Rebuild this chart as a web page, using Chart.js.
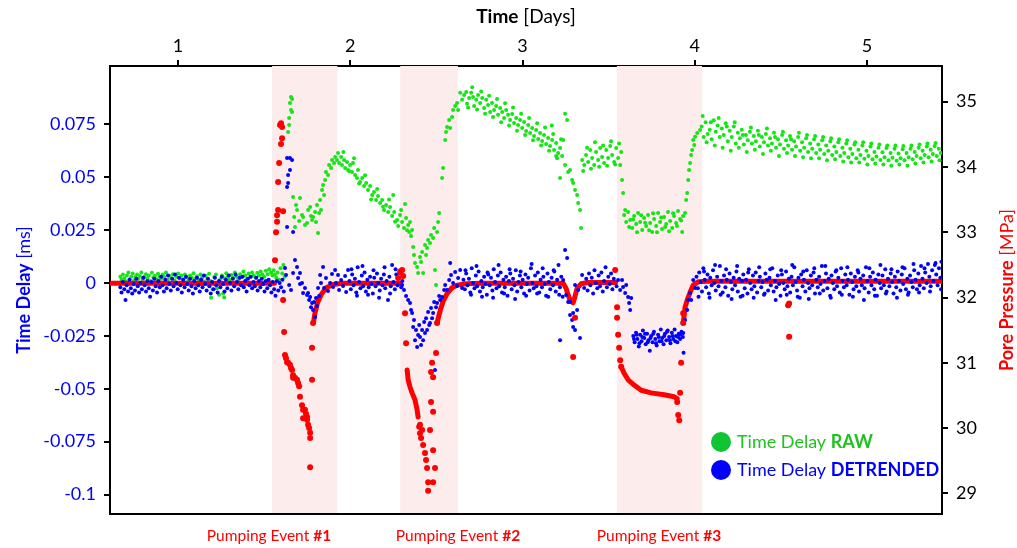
<!DOCTYPE html>
<html>
<head>
<meta charset="utf-8">
<script src="https://cdn.jsdelivr.net/npm/chart.js@4.4.0/dist/chart.umd.min.js"></script>
<style>
  html, body { margin: 0; padding: 0; background: #fff; }
  #wrap { width: 1017px; height: 548px; }
</style>
</head>
<body>
<div id="wrap"><canvas id="chart" width="1017" height="548"></canvas></div>
<script>
// axis ticks
const dayTicks = [1, 2, 3, 4, 5];
const delayTicks = [0.075, 0.05, 0.025, 0, -0.025, -0.05, -0.075, -0.1];
const pressureTicks = [29, 30, 31, 32, 33, 34, 35];

// pumping events (days)
const eventNames = ["Pumping Event #1", "Pumping Event #2", "Pumping Event #3"];
const eventStart = [1.546, 2.290, 3.548];
const eventEnd = [1.925, 2.625, 4.042];

// Time Delay RAW [day, ms]
const delayRaw = [
  [0.665,0.0030],[0.672,0.0015],[0.680,0.0040],[0.688,0.0022],[0.695,0.0008],[0.703,0.0035],[0.712,0.0050],[0.720,0.0018],
  [0.728,0.0030],[0.737,0.0045],[0.745,0.0012],[0.752,0.0028],[0.762,0.0040],[0.770,0.0020],[0.778,0.0033],[0.787,0.0050],
  [0.795,0.0015],[0.805,0.0030],[0.813,0.0042],[0.822,0.0022],[0.830,0.0036],[0.840,0.0010],[0.848,0.0048],[0.857,0.0026],
  [0.866,0.0034],[0.875,0.0018],[0.884,0.0044],[0.893,0.0030],[0.902,0.0020],[0.911,0.0040],[0.920,0.0028],[0.930,0.0050],
  [0.940,0.0016],[0.950,0.0034],[0.960,0.0024],[0.970,0.0042],[0.980,0.0012],[0.990,0.0030],[1.000,0.0045],[1.010,0.0022],
  [1.020,0.0035],[1.030,0.0018],[1.040,0.0040],[1.050,0.0028],[1.060,0.0012],[1.070,0.0036],[1.080,0.0024],[1.090,0.0046],
  [1.100,0.0020],[1.110,0.0032],[1.120,0.0015],[1.130,0.0040],[1.140,0.0026],[1.150,0.0008],[1.160,0.0034],[1.170,0.0020],
  [1.180,0.0044],[1.190,0.0010],[1.192,-0.0070],[1.200,-0.0030],[1.210,0.0028],[1.220,0.0040],[1.226,-0.0025],[1.238,-0.0055],
  [1.245,0.0018],[1.255,0.0035],[1.262,-0.0050],[1.268,-0.0068],[1.270,0.0022],[1.280,0.0046],[1.290,0.0030],[1.300,0.0015],
  [1.310,0.0038],[1.320,0.0025],[1.330,0.0050],[1.340,0.0030],[1.350,0.0018],[1.360,0.0042],[1.370,0.0028],[1.380,0.0055],
  [1.390,0.0035],[1.400,0.0020],[1.410,0.0045],[1.420,0.0030],[1.430,0.0050],[1.440,0.0035],[1.450,0.0025],[1.460,0.0048],
  [1.470,0.0036],[1.480,0.0055],[1.490,0.0040],[1.500,0.0030],[1.510,0.0058],[1.520,0.0042],[1.530,0.0065],[1.540,0.0048],
  [1.548,0.0035],[1.555,0.0060],[1.562,0.0040],[1.570,0.0025],[1.578,0.0050],[1.585,0.0015],[1.595,0.0070],[1.605,0.0045],
  [1.612,0.0085],[1.620,0.0030],
  [1.656,0.0880],[1.662,0.0870],[1.650,0.0851],[1.656,0.0818],[1.662,0.0809],[1.645,0.0780],[1.645,0.0747],[1.639,0.0714],
  [1.668,0.0407],[1.685,0.0369],[1.708,0.0402],[1.691,0.0345],[1.679,0.0265],[1.674,0.0312],[1.703,0.0293],[1.720,0.0322],
  [1.726,0.0312],[1.737,0.0274],[1.749,0.0284],[1.755,0.0345],[1.767,0.0359],[1.772,0.0317],[1.778,0.0298],[1.784,0.0312],
  [1.796,0.0336],[1.801,0.0288],[1.813,0.0237],[1.807,0.0369],[1.819,0.0331],[1.825,0.0393],[1.830,0.0345],
  [1.836,0.0440],[1.842,0.0463],[1.854,0.0487],[1.848,0.0416],[1.859,0.0525],[1.871,0.0511],[1.877,0.0558],[1.889,0.0544],
  [1.894,0.0582],[1.906,0.0568],[1.912,0.0596],[1.923,0.0582],[1.929,0.0615],[1.935,0.0568],[1.947,0.0596],[1.952,0.0558],
  [1.964,0.0582],[1.970,0.0544],[1.981,0.0572],[1.987,0.0534],[1.999,0.0558],[2.010,0.0525],[2.016,0.0568],[2.028,0.0511],
  [2.039,0.0497],[2.045,0.0534],[2.057,0.0478],[2.069,0.0497],[2.080,0.0459],[2.092,0.0473],[2.103,0.0440],[2.115,0.0459],
  [2.127,0.0416],[2.138,0.0430],[2.150,0.0393],[2.161,0.0411],[2.173,0.0378],[2.185,0.0393],[2.196,0.0345],[2.208,0.0369],
  [2.220,0.0336],[2.231,0.0359],[2.243,0.0317],[2.249,0.0416],[2.255,0.0336],[2.272,0.0298],[2.278,0.0270],[2.289,0.0322],
  [2.301,0.0288],[2.312,0.0260],[2.318,0.0374],[2.324,0.0307],[2.336,0.0274],[2.342,0.0241],[2.347,0.0288],[2.353,0.0222],
  [1.960,0.0620],[1.993,0.0530],[2.022,0.0590],[2.051,0.0470],[2.086,0.0510],[2.121,0.0395],[2.156,0.0445],[2.190,0.0360],
  [2.225,0.0395],[2.260,0.0290],[2.295,0.0345],[2.330,0.0250],
  [2.359,0.0251],[2.365,0.0170],[2.370,0.0132],[2.376,0.0095],[2.388,0.0076],[2.394,0.0047],[2.405,0.0123],[2.411,0.0099],
  [2.417,0.0147],[2.423,0.0047],[2.434,0.0180],[2.440,0.0132],[2.446,0.0166],[2.452,0.0203],[2.463,0.0189],[2.469,0.0227],
  [2.481,0.0213],[2.487,0.0260],[2.492,0.0061],[2.498,-0.0009],[2.504,0.0241],[2.510,0.0288],[2.516,0.0331],
  [2.533,0.0497],[2.539,0.0544],[2.551,0.0676],[2.556,0.0714],[2.562,0.0738],[2.574,0.0771],[2.580,0.0733],[2.591,0.0785],
  [2.597,0.0818],[2.609,0.0837],[2.620,0.0851],[2.626,0.0818],[2.638,0.0899],[2.649,0.0866],[2.661,0.0889],[2.673,0.0903],
  [2.678,0.0847],[2.690,0.0875],[2.702,0.0899],[2.713,0.0880],[2.719,0.0837],[2.731,0.0866],[2.742,0.0889],[2.754,0.0851],
  [2.766,0.0875],[2.777,0.0828],[2.789,0.0866],[2.800,0.0842],[2.812,0.0809],[2.823,0.0851],[2.835,0.0818],[2.847,0.0837],
  [2.858,0.0795],[2.870,0.0828],[2.882,0.0809],[2.893,0.0780],[2.905,0.0818],[2.916,0.0795],[2.928,0.0771],[2.940,0.0799],
  [2.951,0.0757],[2.963,0.0780],[2.974,0.0747],[2.986,0.0771],[2.998,0.0733],[3.009,0.0761],[3.021,0.0719],[3.033,0.0747],
  [3.044,0.0709],[3.056,0.0733],[3.067,0.0695],[3.079,0.0723],[3.091,0.0681],[3.102,0.0709],[3.114,0.0672],[3.125,0.0700],
  [3.137,0.0657],[3.149,0.0686],[3.160,0.0648],[3.172,0.0676],[3.183,0.0629],[3.195,0.0662],[3.207,0.0615],[3.218,0.0638],
  [3.230,0.0601],[3.236,0.0676],[3.247,0.0800],[3.259,0.0771],
  [2.684,0.0830],[2.708,0.0925],[2.736,0.0820],[2.760,0.0905],[2.783,0.0800],[2.806,0.0885],[2.829,0.0785],[2.852,0.0870],
  [2.876,0.0760],[2.899,0.0850],[2.922,0.0745],[2.945,0.0830],[2.968,0.0720],[2.992,0.0800],[3.015,0.0700],[3.038,0.0780],
  [3.061,0.0675],[3.085,0.0755],[3.108,0.0650],[3.131,0.0735],[3.154,0.0625],[3.178,0.0705],[3.201,0.0590],[3.224,0.0680],
  [3.195,0.0600],[3.170,0.0745],
  [3.218,0.0497],[3.247,0.0558],[3.265,0.0525],[3.276,0.0534],[3.288,0.0487],[3.294,0.0473],[3.305,0.0440],[3.317,0.0416],
  [3.323,0.0378],[3.334,0.0345],[3.340,0.0260],
  [3.346,0.0582],[3.358,0.0558],[3.369,0.0605],[3.381,0.0572],[3.393,0.0629],[3.404,0.0591],[3.416,0.0558],[3.427,0.0620],
  [3.439,0.0582],[3.451,0.0638],[3.462,0.0596],[3.474,0.0568],[3.486,0.0629],[3.497,0.0591],[3.509,0.0648],[3.520,0.0605],
  [3.532,0.0572],[3.544,0.0638],[3.555,0.0591],[3.567,0.0558],[3.573,0.0620],
  [3.352,0.0530],[3.375,0.0640],[3.398,0.0540],[3.421,0.0665],[3.445,0.0550],[3.468,0.0650],[3.491,0.0555],[3.514,0.0670],
  [3.538,0.0560],[3.561,0.0660],
  [3.578,0.0487],[3.584,0.0426],
  [3.590,0.0322],[3.602,0.0288],[3.613,0.0336],[3.625,0.0298],[3.637,0.0260],[3.648,0.0317],[3.660,0.0279],[3.671,0.0331],
  [3.683,0.0288],[3.695,0.0251],[3.706,0.0307],[3.718,0.0270],[3.729,0.0322],[3.741,0.0284],[3.753,0.0241],[3.764,0.0303],
  [3.776,0.0270],[3.787,0.0331],[3.799,0.0288],[3.810,0.0255],[3.822,0.0312],[3.834,0.0279],[3.845,0.0336],[3.857,0.0293],
  [3.869,0.0260],[3.880,0.0317],[3.892,0.0284],[3.903,0.0340],[3.915,0.0303],[3.927,0.0241],[3.933,0.0317],
  [3.596,0.0345],[3.619,0.0265],[3.642,0.0300],[3.665,0.0240],[3.689,0.0320],[3.712,0.0285],[3.735,0.0250],[3.758,0.0330],
  [3.781,0.0240],[3.805,0.0310],[3.828,0.0265],[3.851,0.0245],[3.874,0.0330],[3.897,0.0270],[3.921,0.0295],
  [3.944,0.0331],[3.950,0.0393],[3.956,0.0426],[3.962,0.0487],[3.967,0.0534],[3.973,0.0568],[3.979,0.0605],[3.985,0.0629],
  [3.991,0.0676],[3.997,0.0653],[4.002,0.0691],[4.014,0.0709],[4.031,0.0724],
  [4.040,0.0740],[4.052,0.0690],[4.063,0.0760],[4.075,0.0705],[4.087,0.0725],[4.098,0.0680],[4.110,0.0770],[4.122,0.0715],
  [4.133,0.0745],[4.145,0.0690],[4.157,0.0730],[4.168,0.0700],[4.180,0.0755],[4.192,0.0670],[4.203,0.0720],[4.215,0.0690],
  [4.227,0.0740],[4.238,0.0660],[4.250,0.0710],[4.262,0.0685],[4.273,0.0725],[4.285,0.0655],[4.297,0.0700],[4.308,0.0675],
  [4.320,0.0715],[4.332,0.0660],[4.343,0.0695],[4.355,0.0670],[4.367,0.0720],[4.378,0.0645],[4.390,0.0690],[4.402,0.0665],
  [4.413,0.0705],[4.425,0.0650],[4.437,0.0685],[4.448,0.0660],[4.460,0.0710],[4.472,0.0640],[4.483,0.0680],[4.495,0.0655],
  [4.507,0.0700],[4.518,0.0635],[4.530,0.0675],[4.542,0.0650],[4.553,0.0695],[4.565,0.0630],[4.577,0.0670],[4.588,0.0645],
  [4.600,0.0690],[4.612,0.0625],[4.623,0.0665],[4.635,0.0640],[4.647,0.0685],[4.658,0.0620],[4.670,0.0660],[4.682,0.0635],
  [4.693,0.0680],[4.705,0.0615],[4.717,0.0655],[4.728,0.0630],[4.740,0.0675],[4.752,0.0610],[4.763,0.0650],[4.775,0.0625],
  [4.787,0.0670],[4.798,0.0605],[4.810,0.0645],[4.822,0.0620],[4.833,0.0665],[4.845,0.0600],[4.857,0.0640],[4.868,0.0615],
  [4.880,0.0660],[4.892,0.0595],[4.903,0.0635],[4.915,0.0610],[4.927,0.0655],[4.938,0.0590],[4.950,0.0630],[4.962,0.0605],
  [4.973,0.0650],[4.985,0.0588],[4.997,0.0625],[5.008,0.0600],[5.020,0.0645],[5.032,0.0585],[5.043,0.0620],[5.055,0.0598],
  [5.067,0.0640],[5.078,0.0582],[5.090,0.0618],[5.102,0.0595],[5.113,0.0638],[5.125,0.0580],[5.137,0.0615],[5.148,0.0592],
  [5.160,0.0635],[5.172,0.0578],[5.183,0.0612],[5.195,0.0590],[5.207,0.0632],[5.218,0.0580],[5.230,0.0615],[5.242,0.0595],
  [5.253,0.0635],[5.265,0.0585],[5.277,0.0620],[5.288,0.0600],[5.300,0.0640],[5.312,0.0590],[5.323,0.0625],[5.335,0.0605],
  [5.347,0.0645],[5.358,0.0595],[5.370,0.0630],[5.382,0.0610],[5.393,0.0648],[5.405,0.0600],[5.417,0.0635],[5.428,0.0615],
  [4.046,0.0790],[4.069,0.0665],[4.093,0.0760],[4.116,0.0650],[4.139,0.0780],[4.162,0.0640],[4.186,0.0740],[4.209,0.0625],
  [4.232,0.0760],[4.256,0.0640],[4.279,0.0700],[4.302,0.0620],[4.326,0.0735],[4.349,0.0630],[4.372,0.0700],[4.396,0.0610],
  [4.419,0.0730],[4.442,0.0625],[4.466,0.0690],[4.489,0.0600],[4.512,0.0715],[4.536,0.0615],[4.559,0.0680],[4.582,0.0600],
  [4.605,0.0710],[4.629,0.0595],[4.652,0.0700],[4.675,0.0590],[4.699,0.0695],[4.722,0.0590],[4.745,0.0690],[4.768,0.0580],
  [4.792,0.0685],[4.815,0.0585],[4.838,0.0680],[4.862,0.0575],[4.885,0.0675],[4.908,0.0570],[4.932,0.0665],[4.955,0.0570],
  [4.978,0.0665],[5.002,0.0560],[5.025,0.0660],[5.048,0.0565],[5.072,0.0655],[5.095,0.0560],[5.118,0.0650],[5.141,0.0555],
  [5.165,0.0650],[5.188,0.0560],[5.211,0.0648],[5.235,0.0555],[5.258,0.0650],[5.281,0.0565],[5.305,0.0655],[5.328,0.0570],
  [5.351,0.0660],[5.375,0.0575],[5.398,0.0662],[5.421,0.0580]
];

// Time Delay DETRENDED [day, ms]
const delayDetrended = [
  [0.665,-0.0020],[0.672,-0.0045],[0.680,0.0005],[0.688,-0.0030],[0.695,-0.0080],[0.702,-0.0010],[0.710,-0.0040],[0.718,0.0015],
  [0.726,-0.0025],[0.734,-0.0050],[0.742,-0.0005],[0.750,-0.0035],[0.758,0.0020],[0.766,-0.0015],[0.774,-0.0045],[0.782,0.0000],
  [0.790,-0.0030],[0.798,0.0025],[0.806,-0.0010],[0.814,-0.0040],[0.822,0.0010],[0.830,-0.0025],[0.838,-0.0065],[0.846,0.0005],
  [0.854,-0.0035],[0.862,0.0020],[0.870,-0.0015],[0.878,-0.0045],[0.886,0.0010],[0.894,-0.0020],[0.902,0.0030],[0.910,-0.0010],
  [0.918,-0.0040],[0.926,0.0015],[0.934,-0.0025],[0.942,0.0035],[0.950,-0.0005],[0.958,-0.0035],[0.966,0.0020],[0.974,-0.0015],
  [0.982,0.0040],[0.990,0.0000],[0.998,-0.0030],[1.006,0.0025],[1.014,-0.0010],[1.022,-0.0045],[1.030,0.0015],[1.038,-0.0020],
  [1.046,0.0030],[1.054,-0.0005],[1.062,-0.0035],[1.070,0.0020],[1.078,-0.0015],[1.086,-0.0050],[1.094,0.0010],[1.102,-0.0025],
  [1.110,0.0025],[1.118,-0.0010],[1.126,-0.0040],[1.134,0.0015],[1.142,-0.0020],[1.150,0.0035],[1.158,-0.0005],[1.166,-0.0035],
  [1.174,0.0020],[1.182,-0.0015],[1.190,-0.0050],[1.198,0.0005],[1.206,-0.0030],[1.214,0.0025],[1.222,-0.0010],[1.230,-0.0045],
  [1.238,0.0010],[1.246,-0.0020],[1.254,0.0030],[1.262,-0.0005],[1.270,-0.0040],[1.278,0.0015],[1.286,-0.0025],[1.294,0.0035],
  [1.302,0.0000],[1.310,-0.0035],[1.318,0.0020],[1.326,-0.0015],[1.334,0.0040],[1.342,0.0005],[1.350,-0.0030],[1.358,0.0025],
  [1.366,-0.0010],[1.374,0.0030],[1.382,-0.0020],[1.390,0.0010],[1.398,-0.0040],[1.406,0.0020],[1.414,-0.0010],[1.422,0.0030],
  [1.430,-0.0025],[1.438,0.0005],[1.446,-0.0015],[1.454,0.0025],[1.462,-0.0035],[1.470,0.0010],[1.478,-0.0020],[1.486,0.0020],
  [1.494,-0.0005],[1.502,-0.0040],[1.510,0.0010],[1.518,-0.0025],[1.526,0.0015],[1.534,-0.0010],[1.542,-0.0045],[1.550,0.0005],
  [1.558,-0.0030],[1.566,-0.0060],[1.574,0.0010],[1.582,-0.0035],[1.590,0.0000],[1.598,-0.0020],[1.606,0.0015],[1.614,-0.0040],
  [1.621,0.0071],[1.633,0.0591],[1.650,0.0591],[1.662,0.0582],[1.650,0.0534],[1.639,0.0511],[1.639,0.0473],[1.633,0.0454],
  [1.633,0.0265],[1.668,0.0241],[1.627,0.0038],[1.645,-0.0009],[1.656,-0.0033],[1.668,0.0047],[1.679,0.0109],[1.691,0.0076],
  [1.697,0.0024],[1.708,0.0047],[1.708,-0.0005],[1.720,0.0000],[1.726,-0.0047],[1.737,-0.0024],[1.749,-0.0057],[1.755,-0.0047],
  [1.761,-0.0080],[1.767,-0.0066],[1.772,-0.0114],[1.778,-0.0095],[1.784,-0.0128],[1.790,-0.0090],[1.796,-0.0161],[1.801,-0.0071],
  [1.807,-0.0109],[1.813,-0.0024],[1.819,-0.0061],[1.825,0.0038],[1.830,0.0000],[1.842,0.0076],[1.848,-0.0024],[1.859,0.0024],
  [1.871,-0.0038],[1.883,0.0000],[1.894,0.0043],[1.900,-0.0019],[1.912,0.0061],[1.917,0.0000],[1.929,0.0038],[1.935,-0.0033],
  [1.947,0.0014],[1.958,-0.0014],[1.970,0.0033],[1.976,-0.0043],[1.987,0.0061],
  [1.995,0.0010],[2.003,-0.0030],[2.011,0.0040],[2.019,-0.0010],[2.027,0.0020],[2.035,-0.0045],[2.043,0.0075],[2.051,0.0005],
  [2.059,-0.0025],[2.067,0.0035],[2.075,-0.0015],[2.083,0.0050],[2.091,-0.0040],[2.099,0.0015],[2.107,-0.0020],[2.115,0.0030],
  [2.123,-0.0005],[2.131,-0.0050],[2.139,0.0025],[2.147,-0.0015],[2.155,0.0045],[2.163,0.0000],[2.171,-0.0035],[2.179,0.0020],
  [2.187,-0.0010],[2.195,0.0040],[2.203,-0.0025],[2.211,0.0010],[2.219,-0.0080],[2.227,0.0030],[2.235,-0.0015],[2.243,0.0085],
  [2.251,0.0005],[2.259,-0.0030],[2.267,0.0040],[2.275,-0.0010],[2.283,0.0025],[2.290,0.0060],[2.296,-0.0020],[2.302,0.0010],
  [2.007,0.0065],[2.039,-0.0060],[2.071,0.0080],[2.103,-0.0055],[2.135,0.0060],[2.167,-0.0070],[2.199,0.0075],[2.231,-0.0050],
  [2.263,0.0065],
  [2.289,0.0047],[2.301,-0.0009],[2.312,-0.0033],[2.324,-0.0061],[2.336,-0.0080],[2.347,-0.0095],[2.353,-0.0128],[2.359,-0.0142],
  [2.365,-0.0208],[2.370,-0.0175],[2.376,-0.0270],[2.382,-0.0222],[2.388,-0.0303],[2.394,-0.0246],[2.400,-0.0199],[2.405,-0.0255],
  [2.411,-0.0293],[2.417,-0.0222],[2.423,-0.0270],[2.429,-0.0184],[2.434,-0.0236],[2.440,-0.0166],[2.446,-0.0222],[2.452,-0.0137],
  [2.458,-0.0199],[2.463,-0.0189],[2.469,-0.0118],[2.475,-0.0166],[2.481,-0.0142],[2.487,-0.0090],[2.492,-0.0411],[2.498,-0.0114],
  [2.504,-0.0095],[2.516,-0.0061],[2.522,-0.0080],[2.533,-0.0066],[2.545,-0.0033],[2.551,-0.0009],[2.562,-0.0033],[2.574,0.0014],
  [2.580,0.0095],[2.585,0.0038],[2.597,0.0000],[2.609,0.0052],[2.620,-0.0014],[2.626,0.0024],[2.638,0.0061],[2.649,-0.0024],
  [2.657,0.0015],[2.665,-0.0030],[2.673,0.0045],[2.681,-0.0010],[2.689,0.0020],[2.697,-0.0045],[2.705,0.0070],[2.713,0.0000],
  [2.721,-0.0025],[2.729,0.0035],[2.737,-0.0015],[2.745,0.0055],[2.753,-0.0040],[2.761,0.0010],[2.769,-0.0020],[2.777,0.0030],
  [2.785,-0.0005],[2.793,-0.0055],[2.801,0.0040],[2.809,-0.0010],[2.817,0.0025],[2.825,-0.0035],[2.833,0.0065],[2.841,0.0005],
  [2.849,-0.0025],[2.857,0.0035],[2.865,-0.0015],[2.873,0.0050],[2.881,-0.0045],[2.889,0.0015],[2.897,-0.0020],[2.905,0.0030],
  [2.913,-0.0060],[2.921,0.0010],[2.929,0.0045],[2.937,-0.0030],[2.945,0.0020],[2.953,-0.0010],[2.961,0.0060],[2.969,-0.0040],
  [2.977,0.0005],[2.985,0.0035],[2.993,-0.0020],[3.001,0.0015],[3.009,-0.0050],[3.017,0.0040],[3.025,-0.0005],[3.033,0.0025],
  [3.041,-0.0035],[3.049,0.0070],[3.057,0.0000],[3.065,-0.0025],[3.073,0.0035],[3.081,-0.0015],[3.089,0.0050],[3.097,-0.0045],
  [3.105,0.0015],[3.113,-0.0020],[3.121,0.0030],[3.129,-0.0005],[3.137,-0.0060],[3.145,0.0045],[3.153,0.0005],[3.161,-0.0030],
  [3.169,0.0025],[3.177,-0.0010],[3.185,0.0055],[3.193,-0.0040],[3.201,0.0015],[3.209,0.0085],[3.217,-0.0020],[3.225,0.0030],
  [2.669,0.0060],[2.701,-0.0055],[2.733,0.0080],[2.765,-0.0065],[2.797,0.0050],[2.829,-0.0070],[2.861,0.0085],[2.893,-0.0050],
  [2.925,0.0065],[2.957,-0.0075],[2.989,0.0055],[3.021,-0.0060],[3.053,0.0090],[3.085,-0.0050],[3.117,0.0070],[3.149,-0.0065],
  [3.181,0.0060],[3.213,-0.0055],
  [3.233,-0.0065],[3.247,0.0156],[3.259,0.0118],[3.253,-0.0057],[3.265,-0.0090],[3.276,-0.0090],[3.276,-0.0151],[3.288,-0.0175],
  [3.294,-0.0142],[3.294,-0.0208],[3.305,-0.0222],[3.317,-0.0128],[3.323,-0.0033],[3.334,-0.0260],[3.218,-0.0270],[3.236,0.0014],
  [3.305,-0.0009],[3.346,0.0038],[3.358,-0.0024],
  [3.370,0.0020],[3.378,-0.0035],[3.386,0.0045],[3.394,-0.0010],[3.402,0.0025],[3.410,-0.0050],[3.418,0.0060],[3.426,0.0000],
  [3.434,-0.0025],[3.442,0.0035],[3.450,-0.0015],[3.458,0.0050],[3.466,-0.0040],[3.474,0.0010],[3.482,0.0075],[3.490,-0.0020],
  [3.498,0.0030],[3.506,-0.0005],[3.514,0.0045],[3.522,-0.0030],[3.530,0.0020],[3.538,0.0060],[3.546,-0.0015],
  [3.555,0.0014],[3.567,-0.0033],[3.578,0.0014],[3.584,-0.0019],[3.596,-0.0047],[3.602,-0.0009],[3.613,-0.0066],[3.619,-0.0095],
  [3.625,-0.0128],[3.631,-0.0071],
  [3.643,-0.0250],[3.651,-0.0280],[3.659,-0.0235],[3.667,-0.0265],[3.675,-0.0300],[3.683,-0.0245],[3.691,-0.0275],[3.699,-0.0225],
  [3.707,-0.0260],[3.715,-0.0290],[3.723,-0.0240],[3.731,-0.0270],[3.739,-0.0320],[3.747,-0.0250],[3.755,-0.0280],[3.763,-0.0230],
  [3.771,-0.0265],[3.779,-0.0295],[3.787,-0.0245],[3.795,-0.0275],[3.803,-0.0220],[3.811,-0.0260],[3.819,-0.0290],[3.827,-0.0240],
  [3.835,-0.0270],[3.843,-0.0225],[3.851,-0.0255],[3.859,-0.0285],[3.867,-0.0235],[3.875,-0.0265],[3.883,-0.0220],[3.891,-0.0250],
  [3.899,-0.0280],[3.907,-0.0240],[3.915,-0.0265],[3.923,-0.0230],[3.931,-0.0255],[3.935,-0.0330],
  [3.647,-0.0265],[3.663,-0.0245],[3.679,-0.0285],[3.695,-0.0255],[3.711,-0.0240],[3.727,-0.0280],[3.743,-0.0260],[3.759,-0.0240],
  [3.775,-0.0285],[3.791,-0.0255],[3.807,-0.0275],[3.823,-0.0250],[3.839,-0.0230],[3.855,-0.0270],[3.871,-0.0250],[3.887,-0.0275],
  [3.903,-0.0255],[3.919,-0.0245],
  [3.933,-0.0236],[3.944,-0.0175],[3.956,-0.0128],[3.962,-0.0080],[3.973,-0.0047],[3.979,-0.0080],[3.991,0.0014],[4.002,-0.0024],
  [4.010,0.0030],[4.018,-0.0025],[4.026,0.0050],[4.034,0.0005],[4.042,-0.0040],[4.050,0.0070],[4.058,0.0015],[4.066,-0.0020],
  [4.074,0.0040],[4.082,-0.0050],[4.090,0.0025],[4.098,-0.0010],[4.106,0.0060],[4.114,0.0000],[4.122,-0.0035],[4.130,0.0030],
  [4.138,-0.0015],[4.146,0.0080],[4.154,0.0010],[4.162,-0.0045],[4.170,0.0035],[4.178,-0.0020],[4.186,0.0015],[4.194,-0.0060],
  [4.202,0.0045],[4.210,0.0005],[4.218,-0.0030],[4.226,0.0025],[4.234,-0.0010],[4.242,0.0055],[4.250,-0.0040],[4.258,0.0020],
  [4.266,-0.0065],[4.274,0.0010],[4.282,0.0040],[4.290,-0.0025],[4.298,0.0015],[4.306,-0.0050],[4.314,0.0065],[4.322,0.0000],
  [4.330,-0.0030],[4.338,0.0035],[4.346,-0.0015],[4.354,0.0050],[4.362,-0.0045],[4.370,0.0010],[4.378,0.0030],[4.386,-0.0020],
  [4.394,0.0005],[4.402,-0.0055],[4.410,0.0045],[4.418,0.0015],[4.426,-0.0035],[4.434,0.0025],[4.442,-0.0010],[4.450,0.0070],
  [4.458,-0.0040],[4.466,0.0010],[4.474,-0.0020],[4.482,0.0035],[4.490,-0.0005],[4.498,-0.0060],[4.506,0.0040],[4.514,0.0000],
  [4.522,-0.0030],[4.530,0.0055],[4.538,-0.0015],[4.546,0.0020],[4.554,-0.0045],[4.562,0.0030],[4.570,-0.0010],[4.578,0.0075],
  [4.586,0.0005],[4.594,-0.0035],[4.602,0.0025],[4.610,-0.0070],[4.618,0.0040],[4.626,-0.0015],[4.634,0.0015],[4.642,-0.0040],
  [4.650,0.0060],[4.658,0.0000],[4.666,-0.0025],[4.674,0.0035],[4.682,-0.0010],[4.690,0.0050],[4.698,-0.0050],[4.706,0.0015],
  [4.714,-0.0020],[4.722,0.0030],[4.730,-0.0005],[4.738,0.0080],[4.746,-0.0035],[4.754,0.0010],[4.762,0.0045],[4.770,-0.0025],
  [4.778,0.0020],[4.786,-0.0060],[4.794,0.0035],[4.802,0.0000],[4.810,-0.0030],[4.818,0.0055],[4.826,-0.0015],[4.834,0.0025],
  [4.842,-0.0045],[4.850,0.0070],[4.858,0.0010],[4.866,-0.0020],[4.874,0.0040],[4.882,-0.0010],[4.890,0.0015],[4.898,-0.0055],
  [4.906,0.0045],[4.914,0.0005],[4.922,-0.0030],[4.930,0.0030],[4.938,-0.0015],[4.946,0.0060],[4.954,-0.0040],[4.962,0.0020],
  [4.970,-0.0010],[4.978,0.0035],[4.986,-0.0025],[4.994,0.0075],[5.002,0.0010],[5.010,-0.0045],[5.018,0.0030],[5.026,-0.0010],
  [5.034,0.0050],[5.042,-0.0030],[5.050,0.0015],[5.058,-0.0060],[5.066,0.0040],[5.074,0.0000],[5.082,-0.0025],[5.090,0.0035],
  [5.098,-0.0010],[5.106,0.0065],[5.114,-0.0040],[5.122,0.0020],[5.130,-0.0015],[5.138,0.0045],[5.146,0.0005],[5.154,-0.0050],
  [5.162,0.0030],[5.170,-0.0020],[5.178,0.0055],[5.186,0.0010],[5.194,-0.0035],[5.202,0.0040],[5.210,-0.0005],[5.218,0.0070],
  [5.226,-0.0030],[5.234,0.0020],[5.242,-0.0045],[5.250,0.0035],[5.258,0.0005],[5.266,-0.0020],[5.274,0.0060],[5.282,0.0015],
  [5.290,-0.0030],[5.298,0.0045],[5.306,-0.0010],[5.314,0.0080],[5.322,0.0020],[5.330,-0.0025],[5.338,0.0050],[5.346,0.0000],
  [5.354,0.0090],[5.362,0.0030],[5.370,-0.0015],[5.378,0.0060],[5.386,0.0010],[5.394,0.0085],[5.402,0.0040],[5.410,-0.0010],
  [5.418,0.0070],[5.426,0.0025],[5.432,0.0100],
  [4.022,-0.0065],[4.054,0.0055],[4.086,-0.0070],[4.118,0.0085],[4.150,-0.0055],[4.182,0.0065],[4.214,-0.0075],[4.246,0.0080],
  [4.278,-0.0060],[4.310,0.0050],[4.342,-0.0070],[4.374,0.0075],[4.406,-0.0050],[4.438,0.0065],[4.470,-0.0080],[4.502,0.0060],
  [4.534,-0.0055],[4.566,0.0085],[4.598,-0.0065],[4.630,0.0055],[4.662,-0.0075],[4.694,0.0070],[4.726,-0.0050],[4.758,0.0080],
  [4.790,-0.0070],[4.822,0.0060],[4.854,-0.0055],[4.886,0.0075],[4.918,-0.0065],[4.950,0.0050],[4.982,-0.0080],[5.014,0.0070],
  [5.046,-0.0060],[5.078,0.0085],[5.110,-0.0050],[5.142,0.0065],[5.174,-0.0070],[5.206,0.0075],[5.238,-0.0055],[5.270,0.0090],
  [5.302,-0.0045],[5.334,0.0070],[5.366,-0.0040],[5.398,0.0095],[5.430,-0.0030]
];

// Pore Pressure, dense stretches [day, MPa] (null = break)
const pressureTrace = [
  [0.605,32.22],[1.560,32.22],[1.561,null],
  [1.786,31.61],[1.795,31.76],[1.810,31.92],[1.830,32.04],[1.860,32.15],[1.900,32.20],[1.960,32.22],[2.285,32.22],[2.286,null],
  [2.330,30.89],[2.336,30.74],[2.347,30.63],[2.359,30.54],[2.376,30.43],[2.388,30.28],[2.394,30.17],[2.395,null],
  [2.504,31.61],[2.522,31.80],[2.539,31.94],[2.562,32.06],[2.591,32.15],[2.620,32.19],[2.670,32.21],[2.760,32.22],[3.236,32.22],
  [3.253,32.14],[3.265,32.04],[3.276,31.96],[3.294,31.92],[3.305,32.02],[3.317,32.14],[3.340,32.21],[3.380,32.23],[3.540,32.23],[3.541,null],
  [3.573,30.94],[3.590,30.84],[3.613,30.74],[3.648,30.66],[3.689,30.58],[3.747,30.54],[3.822,30.51],[3.880,30.48],[3.898,30.45],[3.899,null],
  [3.933,31.61],[3.944,31.85],[3.956,31.96],[3.973,32.08],[3.991,32.19],[4.020,32.24],[4.070,32.25],[5.4355,32.25]
];

// Pore Pressure, scattered readings [day, MPa]
const pressurePoints = [
  [1.563,32.57],[1.592,34.64],[1.598,34.67],[1.604,34.61],[1.604,34.44],[1.598,34.35],[1.587,34.06],[1.581,33.77],
  [1.581,33.34],[1.610,33.32],[1.575,33.26],[1.575,33.16],[1.569,33.00],[1.610,31.96],[1.616,31.47],[1.621,31.12],
  [1.627,31.07],[1.633,31.01],[1.639,31.00],[1.650,30.97],[1.656,30.92],[1.662,30.89],[1.668,30.81],[1.668,30.77],
  [1.679,30.77],[1.691,30.74],[1.697,30.69],[1.703,30.64],[1.708,30.48],[1.720,30.35],[1.726,30.28],[1.726,30.15],
  [1.737,30.28],[1.743,30.22],[1.749,30.17],[1.749,30.13],[1.755,30.05],[1.761,30.00],[1.767,29.93],[1.767,29.85],
  [1.767,29.40],[1.778,30.74],[1.778,31.23],[1.784,31.61],
  [2.278,32.30],[2.289,32.39],[2.301,32.42],[2.307,32.33],[2.318,31.76],[2.324,31.30],
  [2.400,30.02],[2.405,29.92],[2.405,30.05],[2.411,29.85],[2.417,29.97],[2.423,29.74],[2.434,29.62],[2.440,29.51],
  [2.446,29.39],[2.452,29.17],[2.452,29.04],[2.481,29.17],[2.492,29.39],[2.481,29.66],[2.463,29.97],[2.481,30.25],
  [2.469,30.40],[2.481,30.78],[2.469,30.86],[2.475,31.00],[2.498,31.15],[2.504,31.61],
  [3.294,31.09],[3.305,31.69],
  [3.538,32.42],[3.549,31.85],[3.549,31.69],[3.555,31.43],[3.561,31.23],[3.567,31.04],[3.573,30.94],
  [3.898,30.40],[3.904,30.20],[3.910,30.12],[3.915,30.54],[3.921,31.00],[3.933,31.61],[3.933,31.76],
  [4.542,31.88],[4.548,31.91],[4.548,31.40]
];

const pts = arr => arr.map(p => ({ x: p[0], y: p[1] }));

const FONT = "Lato, 'Open Sans', sans-serif";
const BLUE = "#0000ff";
const RED = "#ff0000";
const GREEN_DOT = "#14e614";

function drawRuns(ctx, parts, x, y, size, color) {
    // parts: [[text, bold]], centred on x
    const widths = parts.map(([t, b]) => {
        ctx.font = `${b ? "bold " : ""}${size}px ${FONT}`;
        return ctx.measureText(t).width;
    });
    let cx = x - widths.reduce((a, b) => a + b, 0) / 2;
    ctx.fillStyle = color;
    ctx.textAlign = "left";
    ctx.textBaseline = "middle";
    parts.forEach(([t, b], i) => {
        ctx.font = `${b ? "bold " : ""}${size}px ${FONT}`;
        ctx.fillText(t, cx, y);
        cx += widths[i];
    });
}

function drawRunsLeft(ctx, parts, x, y, size, color) {
    let cx = x;
    ctx.fillStyle = color;
    ctx.textAlign = "left";
    ctx.textBaseline = "middle";
    parts.forEach(([t, b]) => {
        ctx.font = `${b ? "bold " : ""}${size}px ${FONT}`;
        ctx.fillText(t, cx, y);
        cx += ctx.measureText(t).width;
    });
}

const decorations = {
    id: "decorations",
    beforeDatasetsDraw(chart) {
        const { ctx, chartArea, scales } = chart;
        ctx.save();
        ctx.fillStyle = "#fcecec";
        eventStart.forEach((s, i) => {
            const x1 = scales.x.getPixelForValue(s);
            const x2 = scales.x.getPixelForValue(eventEnd[i]);
            ctx.fillRect(x1, chartArea.top, x2 - x1, chartArea.bottom - chartArea.top);
        });
        ctx.restore();
    },
    afterDraw(chart) {
        const { ctx, chartArea } = chart;
        ctx.save();
        // frame bottom edge
        ctx.strokeStyle = "#000";
        ctx.lineWidth = 2;
        ctx.beginPath();
        ctx.moveTo(chartArea.left - 1, chartArea.bottom);
        ctx.lineTo(chartArea.right + 1, chartArea.bottom);
        ctx.stroke();

        // axis titles
        const midY = (chartArea.top + chartArea.bottom) / 2;
        drawRuns(ctx, [["Time", true], [" [Days]", false]], (chartArea.left + chartArea.right) / 2, 17, 19, "#000");

        ctx.save();
        ctx.translate(24, midY);
        ctx.rotate(-Math.PI / 2);
        drawRuns(ctx, [["Time Delay", true], [" [ms]", false]], 0, 0, 18, BLUE);
        ctx.restore();

        ctx.save();
        ctx.translate(1007, midY);
        ctx.rotate(-Math.PI / 2);
        drawRuns(ctx, [["Pore Pressure", true], [" [MPa]", false]], 0, 0, 18, RED);
        ctx.restore();

        // pumping event labels
        const labelX = [269, 458, 659];
        eventNames.forEach((name, i) => {
            const cut = name.lastIndexOf(" ") + 1;
            drawRuns(ctx, [[name.slice(0, cut), false], [name.slice(cut), true]], labelX[i], 536, 15.5, RED);
        });

        // legend
        const items = [
            ["#10c433", "#1fc21f", "RAW", 442],
            [BLUE, BLUE, "DETRENDED", 470]
        ];
        items.forEach(([dot, txt, word, y]) => {
            ctx.fillStyle = dot;
            ctx.beginPath();
            ctx.arc(721, y, 10, 0, Math.PI * 2);
            ctx.fill();
            drawRunsLeft(ctx, [["Time Delay ", false], [word, true]], 737, y, 18, txt);
        });
        ctx.restore();
    }
};

const axisLine = { display: true, color: "#000", width: 2 };
const tickGrid = { drawOnChartArea: false, drawTicks: true, tickLength: 6, color: "#000", lineWidth: 2 };

new Chart(document.getElementById("chart"), {
    type: "scatter",
    data: {
        datasets: [
            {
                label: "Pore Pressure",
                data: pts(pressurePoints),
                yAxisID: "y2",
                backgroundColor: RED,
                borderWidth: 0,
                pointRadius: 3,
                order: 0
            },
            {
                label: "Time Delay DETRENDED",
                data: pts(delayDetrended),
                yAxisID: "y",
                backgroundColor: BLUE,
                borderWidth: 0,
                pointRadius: 2,
                order: 1
            },
            {
                label: "Pore Pressure trace",
                data: pts(pressureTrace),
                yAxisID: "y2",
                showLine: true,
                spanGaps: false,
                borderColor: RED,
                borderWidth: 5,
                borderCapStyle: "round",
                borderJoinStyle: "round",
                pointRadius: 0,
                order: 2
            },
            {
                label: "Time Delay RAW",
                data: pts(delayRaw),
                yAxisID: "y",
                backgroundColor: GREEN_DOT,
                borderWidth: 0,
                pointRadius: 2,
                order: 3
            }
        ]
    },
    options: {
        responsive: false,
        devicePixelRatio: 1,
        animation: false,
        layout: { padding: { top: 0, left: 0, right: 0, bottom: 34 } },
        plugins: {
            legend: { display: false },
            tooltip: { enabled: false }
        },
        scales: {
            x: {
                type: "linear",
                position: "top",
                min: 0.605,
                max: 5.4355,
                afterBuildTicks: s => { s.ticks = dayTicks.map(v => ({ value: v })); },
                afterFit: s => { s.height = 66; },
                ticks: { color: "#000", font: { family: FONT, size: 18 }, padding: 3, maxRotation: 0 },
                grid: tickGrid,
                border: axisLine
            },
            y: {
                type: "linear",
                position: "left",
                min: -0.1092,
                max: 0.1026,
                afterBuildTicks: s => { s.ticks = delayTicks.map(v => ({ value: v })); },
                afterFit: s => { s.width = 110; },
                ticks: { color: BLUE, font: { family: FONT, size: 18 }, padding: 8, callback: v => String(v) },
                grid: tickGrid,
                border: axisLine
            },
            y2: {
                type: "linear",
                position: "right",
                min: 28.685,
                max: 35.545,
                afterBuildTicks: s => { s.ticks = pressureTicks.map(v => ({ value: v })); },
                afterFit: s => { s.width = 75; },
                ticks: { color: "#000", font: { family: FONT, size: 18 }, padding: 8, callback: v => String(v) },
                grid: tickGrid,
                border: axisLine
            }
        }
    },
    plugins: [decorations]
});
</script>
</body>
</html>
